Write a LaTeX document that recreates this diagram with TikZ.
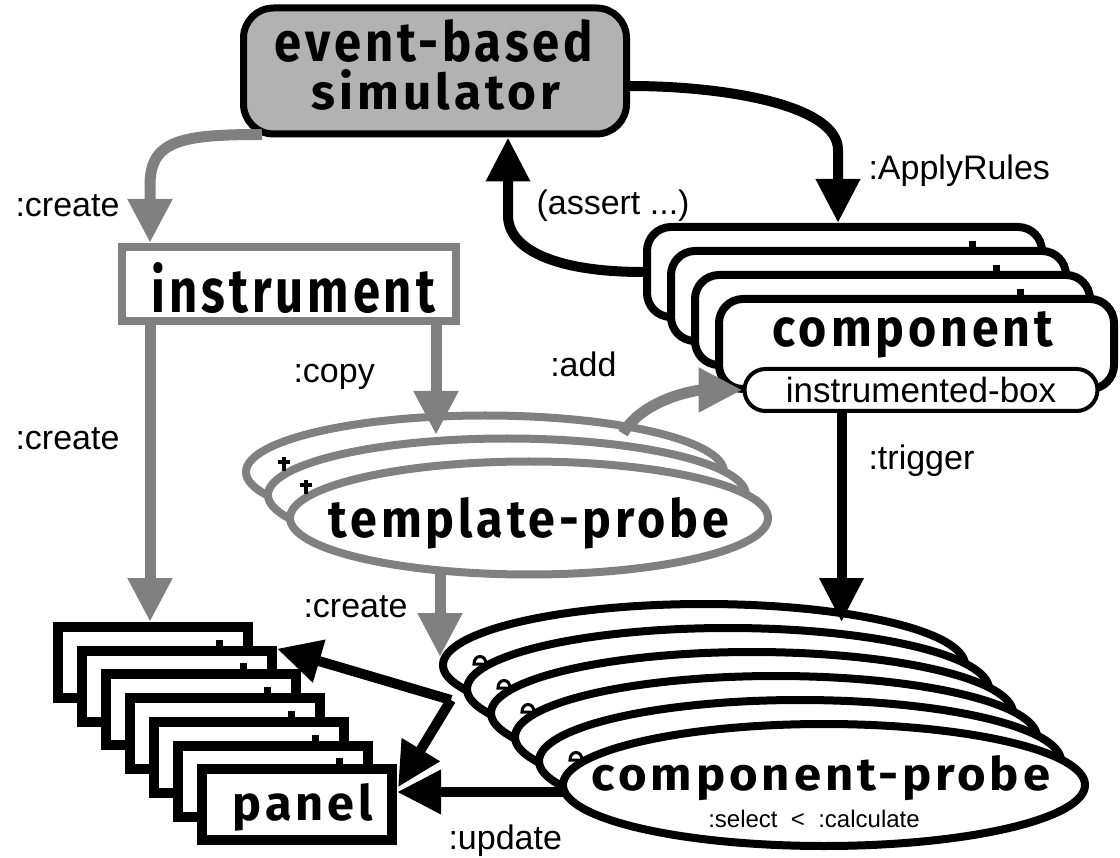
\documentclass[tikz,border=0pt]{standalone}
\usepackage{fontspec}
\setmainfont{Liberation Sans}
\newfontfamily\ttlfont{Fira Sans}[LetterSpace=8]
\usepackage{graphicx}
\usetikzlibrary{arrows.meta,calc,shapes.geometric}

\definecolor{shade}{gray}{0.5}
\definecolor{simfill}{gray}{0.7}

\newcommand{\boxtitle}[3]{\resizebox{#1pt}{#2pt}{\ttlfont\bfseries #3}}
\newcommand{\lbl}{\fontsize{34}{40}\selectfont}

\tikzset{
  blk/.style={line width=10pt, -{Triangle[width=42pt,length=44pt]}},
  gry/.style={line width=11pt, draw=shade, -{Triangle[width=42pt,length=44pt]}},
  compbox/.style={draw, line width=8pt, fill=white, rounded corners=24pt, minimum width=395pt, minimum height=90pt, inner sep=0pt},
  panelbox/.style={draw, line width=10pt, fill=white, minimum width=190pt, minimum height=71pt, inner sep=0pt},
  cpell/.style={ellipse, draw, line width=8pt, fill=white, minimum width=522pt, minimum height=122pt, inner sep=0pt},
  tpell/.style={ellipse, draw=shade, line width=8pt, fill=white, minimum width=478pt, minimum height=113pt, inner sep=0pt},
}

\begin{document}
\begin{tikzpicture}[x=1pt,y=-1pt]
  \useasboundingbox (0,0) rectangle (1120,858);

  % template-probe stack
  \foreach \i in {1,2,3}
    \node[tpell] (tp\i) at ({485+22*(\i-1)},{472+23*(\i-1)}) {};
  \foreach \i in {2,3}
    \draw[line width=3.5pt] ($(tp\i.west)+(20,-38)$) -- +(0,14) ($(tp\i.west)+(14,-33)$) -- +(12,0);
  \node[anchor=base] (tptxt) at (529,537) {\boxtitle{400}{40}{template-probe}};

  % component-probe stack
  \foreach \i in {1,...,6}
    \node[cpell] (cp\i) at ({704+24*(\i-1)},{665+24*(\i-1)}) {};
  \foreach \i in {2,3,4,6}
    \filldraw[fill=white, line width=3pt] ($(cp\i.west)+(11,-25)$) .. controls +(0,-10) and +(0,-10) .. ($(cp\i.west)+(23,-25)$) -- cycle;
  \node[anchor=base] (cptxt) at (821,790) {\boxtitle{458}{35}{component-probe}};
  \node[anchor=base, font=\fontsize{24}{28}\selectfont] (cpsub) at (814,827) {:select~~<~~:calculate};

  % panel stack
  \foreach \i in {1,...,7} {
    \node[panelbox] (pan\i) at ({153+24*(\i-1)},{662.5+23.7*(\i-1)}) {};
    \ifnum\i>1 \fill ($(pan\i.north west)+(139,-6)$) rectangle +(7,7); \fi
  }
  \node[anchor=base] (pantxt) at (303,820) {\boxtitle{140}{37}{panel}};

  % component stack
  \foreach \i in {1,...,4} {
    \node[compbox] (comp\i) at ({844.5+24*(\i-1)},{272+24*(\i-1)}) {};
    \ifnum\i>1 \fill ($(comp\i.north west)+(302,-6)$) rectangle +(7,7); \fi
  }
  \node[anchor=base] (comptxt) at (913,347) {\boxtitle{280}{35}{component}};
  \node[draw, line width=4pt, fill=white, rounded corners=21pt, minimum width=353pt, minimum height=42pt, inner sep=0pt, font=\fontsize{35}{40}\selectfont] (ibox) at (921,390) {instrumented-box};

  % instrument and simulator
  \node[draw=shade, line width=8pt, fill=white, minimum width=334pt, minimum height=74pt, inner sep=0pt] (inst) at (289,284) {};
  \node[anchor=base] (insttxt) at (293.5,313) {\boxtitle{283}{50}{instrument}};
  \node[draw, line width=7pt, fill=simfill, rounded corners=30pt, minimum width=383pt, minimum height=126pt, inner sep=0pt] (sim) at (435,71) {};
  \node[anchor=base] (simtxt1) at (434,62) {\boxtitle{318}{42}{event-based}};
  \node[anchor=base] (simtxt2) at (436,110) {\boxtitle{248}{40}{simulator}};

  % connectors
  \coordinate (ar) at ($(comp1.north west)+(195,0)$);
  \coordinate (as) at ($(sim.south west)+(268,0)$);
  \coordinate (cpy) at ($(inst.south west)+(318,0)$);
  \coordinate (tr) at ($(ibox.south west)+(99,0)$);
  \coordinate (cpl) at ($(cp1.west)+(12,35)$);
  \coordinate (up) at ($(cp6.west)+(4,7)$);

  \draw[gry] ($(sim.south west)+(22,-3)$) .. controls +(-80,0) and +(0,-45) .. ($(inst.north west)+(32,-58)$) -- ($(inst.north west)+(32,0)$);
  \draw[gry] ($(inst.south west)+(32,0)$) -- ($(pan1.north west)+(97,0)$);
  \draw[gry] (cpy) -- ($(cpy)+(0,110)$);
  \draw[gry] ($(tp1.north)+(138,22)$) .. controls +(20,-35) and +(-45,0) .. (ibox.west);
  \draw[gry] ($(tp3.south)+(-89,-7)$) -- ($(cp1.west)+(1,-8)$);

  \draw[blk] ($(sim.east)+(0,15)$) .. controls +(95,0) and +(0,-45) .. ($(ar)+(0,-73)$) -- (ar);
  \draw[blk] (comp1.west) .. controls +(-85,0) and +(0,35) .. ($(as)+(0,78)$) -- (as);
  \draw[blk] (tr) -- ($(tr)+(0,209)$);
  \draw[blk] (cpl) -- ($(pan2.north east)+(0,3)$);
  \draw[blk] (cpl) -- ($(pan7.north east)+(1,23)$);
  \draw[blk] (up) -- (up -| pan7.east);

  % labels
  \node[anchor=base west, font=\lbl] (l1) at (12,217) {:create};
  \node[anchor=base west, font=\lbl] (l2) at (12,450) {:create};
  \node[anchor=base west, font=\lbl] (l3) at (290,383) {:copy};
  \node[anchor=base east, font=\lbl] (l4) at (620,377) {:add};
  \node[anchor=base west, font=\lbl] (l5) at (865,180) {:ApplyRules};
  \node[anchor=base west, font=\lbl] (l6) at (533,215) {(assert ...)};
  \node[anchor=base west, font=\lbl] (l7) at (865,470) {:trigger};
  \node[anchor=base west, font=\lbl] (l8) at (300,617) {:create};
  \node[anchor=base west, font=\lbl] (l9) at (445,849) {:update};
\end{tikzpicture}
\end{document}
